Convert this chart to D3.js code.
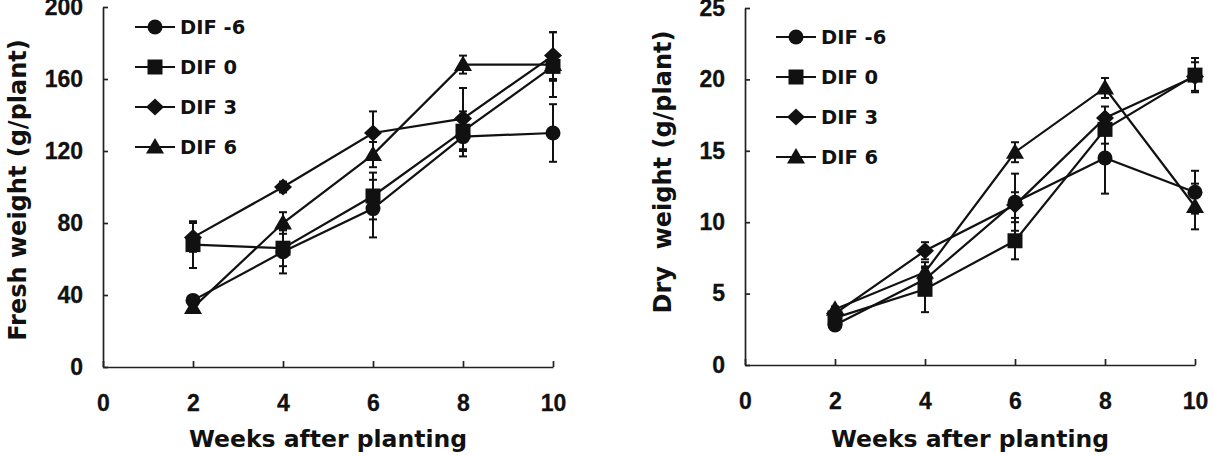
<!DOCTYPE html>
<html>
<head>
<meta charset="utf-8">
<script src="https://cdn.jsdelivr.net/npm/d3@7"></script>
<style>
  html, body { margin: 0; padding: 0; background: #fff; }
  svg { display: block; }
</style>
</head>
<body>
<svg id="chart" width="1214" height="456"></svg>
<script>
// ---------- data ----------
const weeks = [2, 4, 6, 8, 10];
const seriesNames = ["DIF -6", "DIF 0", "DIF 3", "DIF 6"];
const seriesSymbols = ["circle", "square", "diamond", "triangle"];

const xTicks = [0, 2, 4, 6, 8, 10];
const freshTicks = [0, 40, 80, 120, 160, 200];
const dryTicks = [0, 5, 10, 15, 20, 25];

// Fresh weight (g/plant)
const freshDIFm6 = [37, 64, 88, 128, 130];
const freshDIFm6Err = [3, 12, 16, 11, 16];
const freshDIF0 = [68, 66, 95, 131, 167];
const freshDIF0Err = [13, 10, 13, 11, 8];
const freshDIF3 = [72, 100, 130, 138, 173];
const freshDIF3Err = [8, 3, 12, 17, 13];
const freshDIF6 = [33, 80, 118, 168, 168];
const freshDIF6Err = [3, 6, 7, 5, 18];

// Dry weight (g/plant)
const dryDIFm6 = [2.8, 6.0, 11.4, 14.5, 12.1];
const dryDIFm6Err = [0.2, 0.8, 2.0, 2.5, 1.5];
const dryDIF0 = [3.3, 5.3, 8.7, 16.5, 20.3];
const dryDIF0Err = [0.3, 1.6, 1.3, 1.0, 1.2];
const dryDIF3 = [3.6, 8.0, 11.2, 17.3, 20.2];
const dryDIF3Err = [0.3, 0.6, 0.9, 0.8, 1.0];
const dryDIF6 = [3.9, 6.5, 14.9, 19.4, 11.1];
const dryDIF6Err = [0.2, 0.7, 0.7, 0.7, 1.6];

const xTitle = "Weeks after planting";
const freshTitle = "Fresh weight (g/plant)";
const dryTitle = "Dry  weight (g/plant)";

// ---------- drawing ----------
const svg = d3.select("#chart");
svg.append("rect").attr("width", 1214).attr("height", 456).attr("fill", "#fff");

const tickFont = "'Liberation Sans', Arial, sans-serif";
const labelFont = "'DejaVu Sans', sans-serif";
const ink = "#111";

const diamondType = {
  draw(ctx, size) {
    const w = 9, h = 8.5;
    ctx.moveTo(0, -h); ctx.lineTo(w, 0); ctx.lineTo(0, h); ctx.lineTo(-w, 0); ctx.closePath();
  }
};
const triangleType = {
  draw(ctx, size) {
    ctx.moveTo(0, -9); ctx.lineTo(9, 6.5); ctx.lineTo(-9, 6.5); ctx.closePath();
  }
};
function symbolGen(name) {
  if (name === "circle") return d3.symbol().type(d3.symbolCircle).size(Math.PI * 7.5 * 7.5);
  if (name === "square") return d3.symbol().type(d3.symbolSquare).size(15 * 15);
  if (name === "diamond") return d3.symbol().type(diamondType);
  return d3.symbol().type(triangleType);
}

function drawPanel(cfg) {
  const g = svg.append("g");
  const x = d3.scaleLinear().domain([0, 10]).range(cfg.xRange);
  const y = d3.scaleLinear().domain([0, cfg.yMax]).range(cfg.yRange);

  const yAxis = d3.axisLeft(y).tickValues(cfg.yTicks).tickSizeInner(-5).tickSizeOuter(0).tickPadding(20);
  const xAxis = d3.axisBottom(x).tickValues(xTicks).tickSizeInner(-6).tickSizeOuter(0).tickPadding(28);

  const ya = g.append("g").attr("transform", `translate(${cfg.xRange[0]},0)`).call(yAxis);
  const xa = g.append("g").attr("transform", `translate(0,${cfg.yRange[0]})`).call(xAxis);
  [ya, xa].forEach(a => {
    a.select(".domain").attr("stroke", "#222").attr("stroke-width", 1.7);
    a.selectAll(".tick line").attr("stroke", "#222").attr("stroke-width", 1.7);
    a.selectAll(".tick text").attr("fill", ink).attr("font-family", tickFont)
      .attr("font-weight", "bold").attr("font-size", 23)
      .attr("stroke", ink).attr("stroke-width", 0.3);
  });

  const series = cfg.series;
  // error bars
  series.forEach(s => {
    weeks.forEach((w, i) => {
      const cx = x(w), top = y(s.values[i] + s.errs[i]), bot = y(s.values[i] - s.errs[i]);
      g.append("line").attr("x1", cx).attr("x2", cx).attr("y1", top).attr("y2", bot)
        .attr("stroke", ink).attr("stroke-width", 2);
      [top, bot].forEach(yy => g.append("line").attr("x1", cx - 4).attr("x2", cx + 4)
        .attr("y1", yy).attr("y2", yy).attr("stroke", ink).attr("stroke-width", 2));
    });
  });
  // lines
  const line = d3.line().x((d, i) => x(weeks[i])).y(d => y(d));
  series.forEach(s => {
    g.append("path").datum(s.values).attr("d", line).attr("fill", "none")
      .attr("stroke", ink).attr("stroke-width", 2.2);
  });
  // markers
  series.forEach((s, si) => {
    const sym = symbolGen(seriesSymbols[si]);
    g.selectAll(null).data(s.values).enter().append("path")
      .attr("d", sym()).attr("fill", ink)
      .attr("transform", (d, i) => `translate(${x(weeks[i])},${y(d)})`);
  });

  // legend
  seriesNames.forEach((name, i) => {
    const ly = cfg.legend.y0 + i * cfg.legend.dy;
    g.append("line").attr("x1", cfg.legend.x0).attr("x2", cfg.legend.x0 + 40)
      .attr("y1", ly).attr("y2", ly).attr("stroke", ink).attr("stroke-width", 2.2);
    g.append("path").attr("d", symbolGen(seriesSymbols[i])()).attr("fill", ink)
      .attr("transform", `translate(${cfg.legend.x0 + 20},${ly})`);
    g.append("text").attr("x", cfg.legend.x0 + 45).attr("y", ly + 7)
      .attr("font-family", labelFont).attr("font-weight", "bold").attr("font-size", 19.5)
      .attr("fill", ink).text(name);
  });

  // titles
  const xMid = (cfg.xRange[0] + cfg.xRange[1]) / 2;
  g.append("text").attr("x", xMid).attr("y", cfg.xTitleY).attr("text-anchor", "middle")
    .attr("font-family", labelFont).attr("font-weight", "bold").attr("font-size", 23.5)
    .attr("fill", ink).text(xTitle);
  g.append("text").attr("transform", `translate(${cfg.yTitle.x},${cfg.yTitle.y}) rotate(-90)`)
    .attr("text-anchor", "middle").style("white-space", "pre")
    .attr("font-family", labelFont).attr("font-weight", "bold").attr("font-size", 24)
    .attr("fill", ink).text(cfg.yTitleText);
}

drawPanel({
  xRange: [103, 553], yRange: [367, 7], yMax: 200, yTicks: freshTicks,
  series: [
    { values: freshDIFm6, errs: freshDIFm6Err },
    { values: freshDIF0, errs: freshDIF0Err },
    { values: freshDIF3, errs: freshDIF3Err },
    { values: freshDIF6, errs: freshDIF6Err }
  ],
  legend: { x0: 135, y0: 27, dy: 40 },
  xTitleY: 447, yTitle: { x: 26, y: 190 }, yTitleText: freshTitle
});

drawPanel({
  xRange: [745, 1195], yRange: [365, 8], yMax: 25, yTicks: dryTicks,
  series: [
    { values: dryDIFm6, errs: dryDIFm6Err },
    { values: dryDIF0, errs: dryDIF0Err },
    { values: dryDIF3, errs: dryDIF3Err },
    { values: dryDIF6, errs: dryDIF6Err }
  ],
  legend: { x0: 776, y0: 37, dy: 40 },
  xTitleY: 447, yTitle: { x: 671, y: 172 }, yTitleText: dryTitle
});
</script>
</body>
</html>
